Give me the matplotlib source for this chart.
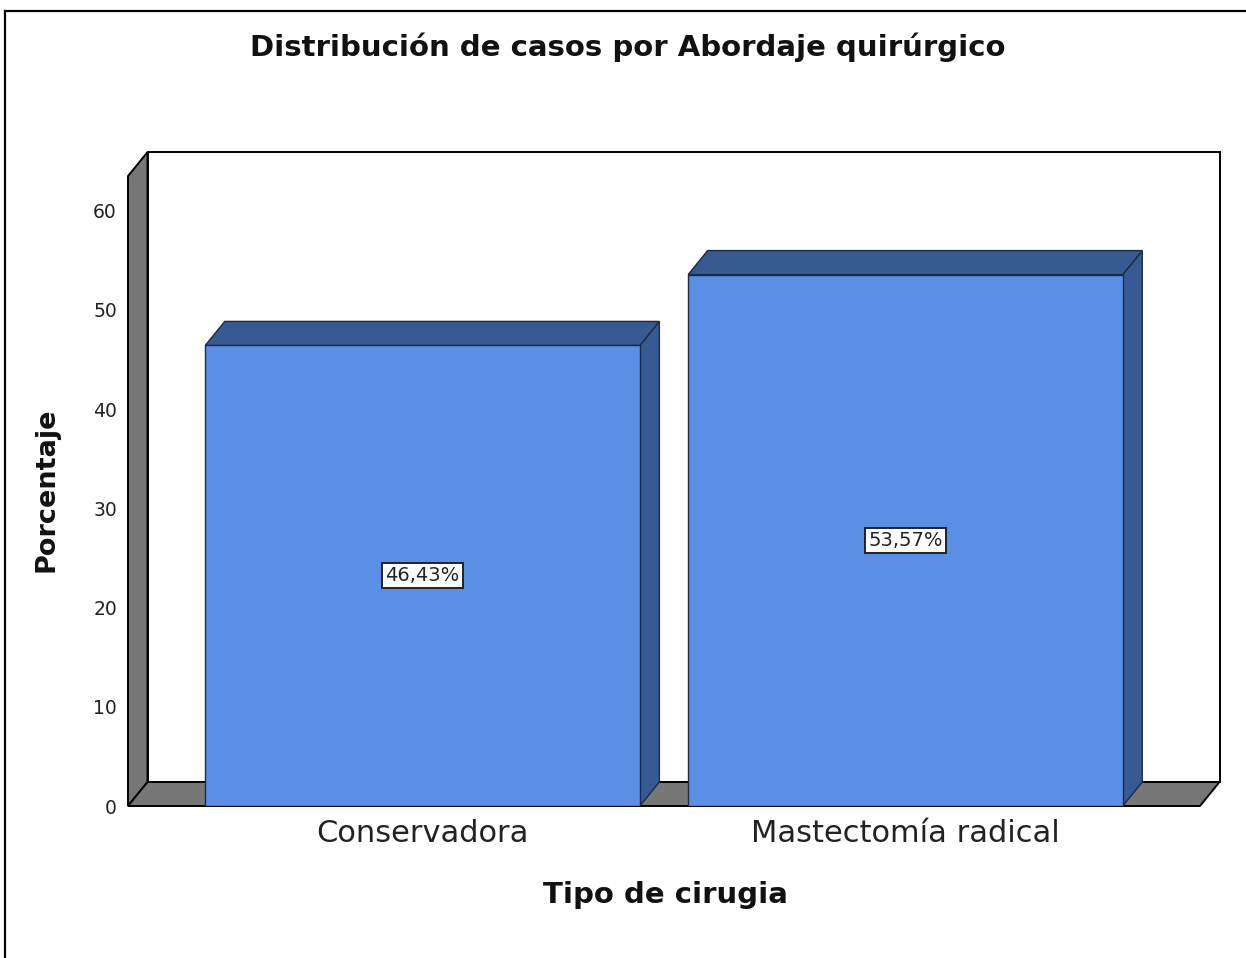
#!/usr/bin/env python3
"""SPSS-style 3D bar chart: distribución de casos por abordaje quirúrgico."""

import matplotlib

matplotlib.use("Agg")
import matplotlib.pyplot as plt
from matplotlib.lines import Line2D
from matplotlib.patches import Polygon

CATEGORIES = ["Conservadora", "Mastectomía radical"]
PERCENTS = [46.43, 53.57]
Y_TICKS = [0, 10, 20, 30, 40, 50, 60]

FRONT = "#5A8FE6"
DARK = "#375A92"
GRAY = "#777777"
EDGE = "#1c2a44"

W, H = 1246, 958
DPI = 100

fig = plt.figure(figsize=(W / DPI, H / DPI), dpi=DPI)
plt.rcParams["font.family"] = ["DejaVu Sans"]

# front plane of the 3D box, in pixel units of the figure
left_px, right_px, zero_px = 128, 1200, 806
ymax = 63.5
px_per_unit_y = 9.92
top_px = zero_px - ymax * px_per_unit_y
ax = fig.add_axes([
    left_px / W,
    (H - zero_px) / H,
    (right_px - left_px) / W,
    (zero_px - top_px) / H,
])
xlo, xhi = -0.61, 1.61
ax.set_xlim(xlo, xhi)
ax.set_ylim(0, ymax)
for spine in ax.spines.values():
    spine.set_visible(False)
ax.patch.set_visible(False)

# depth offset (up and to the right) expressed in data units
depth_dx_px, depth_dy_px = 19.5, 24.0
dx = depth_dx_px * (xhi - xlo) / ax.bbox.width
dy = depth_dy_px * ymax / ax.bbox.height

# back wall
back = Polygon(
    [(xlo + dx, dy), (xhi + dx, dy), (xhi + dx, ymax + dy), (xlo + dx, ymax + dy)],
    closed=True, facecolor="white", edgecolor="black", linewidth=1.4,
    clip_on=False, zorder=1,
)
ax.add_patch(back)
# left side wall
wall = Polygon(
    [(xlo, 0), (xlo + dx, dy), (xlo + dx, ymax + dy), (xlo, ymax)],
    closed=True, facecolor=GRAY, edgecolor="black", linewidth=1.4,
    clip_on=False, zorder=2,
)
ax.add_patch(wall)
# floor
floor = Polygon(
    [(xlo, 0), (xhi, 0), (xhi + dx, dy), (xlo + dx, dy)],
    closed=True, facecolor=GRAY, edgecolor="black", linewidth=1.4,
    clip_on=False, zorder=2,
)
ax.add_patch(floor)

positions = list(range(len(CATEGORIES)))
bar_w = 0.9
bars = ax.bar(positions, PERCENTS, width=bar_w, color=FRONT, edgecolor=EDGE,
              linewidth=1.0, zorder=5)
for rect, value in zip(bars, PERCENTS):
    x0 = rect.get_x()
    x1 = x0 + rect.get_width()
    side = Polygon([(x1, 0), (x1 + dx, dy), (x1 + dx, value + dy), (x1, value)],
                   closed=True, facecolor=DARK, edgecolor=EDGE, linewidth=1.0,
                   clip_on=False, zorder=4)
    top = Polygon([(x0, value), (x1, value), (x1 + dx, value + dy), (x0 + dx, value + dy)],
                  closed=True, facecolor=DARK, edgecolor=EDGE, linewidth=1.0,
                  clip_on=False, zorder=4)
    ax.add_patch(side)
    ax.add_patch(top)
    label = f"{value:.2f}".replace(".", ",") + "%"
    ax.text(rect.get_x() + rect.get_width() / 2, value / 2, label,
            ha="center", va="center", fontsize=14, color="#222222", zorder=7,
            bbox=dict(boxstyle="square,pad=0.16", facecolor="white",
                      edgecolor="#222222", linewidth=1.4))

ax.set_yticks(Y_TICKS)
ax.set_yticklabels([str(t) for t in Y_TICKS], fontsize=13.5, color="#222222")
ax.set_xticks(positions)
ax.set_xticklabels(CATEGORIES, fontsize=22, color="#222222")
ax.tick_params(axis="y", length=0, pad=8)
ax.tick_params(axis="x", length=0, pad=9)

fig.text(628 / W, 1 - 47 / H, "Distribución de casos por Abordaje quirúrgico",
         ha="center", va="center", fontsize=21, fontweight="bold", color="#111111")
fig.text(47 / W, 1 - 490 / H, "Porcentaje", rotation=90,
         ha="center", va="center", fontsize=19.5, fontweight="bold", color="#111111")
fig.text(665 / W, 1 - 895 / H, "Tipo de cirugia",
         ha="center", va="center", fontsize=21, fontweight="bold", color="#111111")

# outer frame (left and top edges visible)
fig.add_artist(Line2D([5 / W, 5 / W], [0, 1 - 11 / H], color="black", linewidth=1.6))
fig.add_artist(Line2D([5 / W, 1], [1 - 11 / H, 1 - 11 / H], color="black", linewidth=1.6))

fig.savefig("out.png", dpi=DPI)
